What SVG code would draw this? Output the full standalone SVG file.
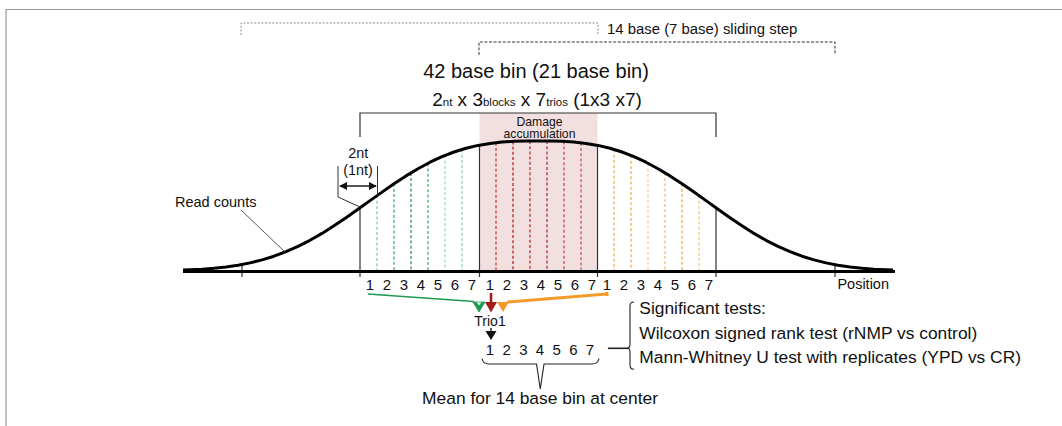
<svg xmlns="http://www.w3.org/2000/svg" width="1062" height="426" viewBox="0 0 1062 426">
<style>
text{font-family:"Liberation Sans",Arial,sans-serif;fill:#111}
.frame{stroke:#9a9a9a;stroke-width:1.2;fill:none}
.dotA{stroke:#8a8a8a;stroke-width:1;fill:none;stroke-dasharray:2,1.6}
.dotB{stroke:#333;stroke-width:1;fill:none;stroke-dasharray:3,1.6}
.solid{stroke:#333;stroke-width:1.2;fill:none}
.dash{stroke-width:1.1;stroke-dasharray:3,2.2;fill:none}
.g{fill:#1e9a50}.r{fill:#a31c1c}.o{fill:#f3a23c}
.num{font-size:15px;text-anchor:middle}
.big{font-size:17.4px}
</style>
<defs>
<marker id="ah" viewBox="0 0 10 10" refX="9" refY="5" markerWidth="4" markerHeight="4" orient="auto-start-reverse"><path d="M0,0 L10,5 L0,10 z" fill="#111"/></marker>
</defs>

<g id="frame">
<path class="frame" d="M6,426 V9.5 H1062"/>
</g>

<g id="sliding-step">
<path class="dotA" d="M241,35 V23 H598 V35"/>
<path class="dotB" d="M479,55 V42 H835 V55"/>
<text x="607" y="34" font-size="14.9">14 base (7 base) sliding step</text>
</g>

<g id="titles">
<text x="536" y="78" font-size="20" text-anchor="middle">42 base bin (21 base bin)</text>
<text x="537" y="106" font-size="19" text-anchor="middle">2<tspan font-size="11.5">nt</tspan> x 3<tspan font-size="11.5">blocks</tspan> x 7<tspan font-size="11.5">trios</tspan> (1x3 x7)</text>
</g>

<g id="damage-box">
<rect x="479.5" y="113" width="118" height="158" fill="#f2e0e0"/>
<text x="539.5" y="125.5" font-size="12.2" text-anchor="middle" fill="#3a2222">Damage</text>
<text x="539.5" y="138" font-size="12.2" text-anchor="middle" fill="#3a2222">accumulation</text>
</g>

<g id="bin-bracket">
<path class="solid" d="M360,137 V113 H716 V137"/>
</g>

<g id="bin-lines">
<path class="dash" stroke="#6cc48e" d="M377,195.6 V271"/>
<path class="dash" stroke="#22a050" d="M394,183.7 V271"/>
<path class="dash" stroke="#1b7a3c" d="M411,172.9 V271"/>
<path class="dash" stroke="#22a050" d="M428,163.3 V271"/>
<path class="dash" stroke="#8ed2b4" d="M445,155.5 V271"/>
<path class="dash" stroke="#78cc98" d="M462,149.5 V271"/>
<path class="dash" stroke="#c42020" d="M496,142.8 V271"/>
<path class="dash" stroke="#a80000" d="M513,141.4 V271"/>
<path class="dash" stroke="#b01010" d="M530,141 V271"/>
<path class="dash" stroke="#a01020" d="M547,141 V271"/>
<path class="dash" stroke="#c03030" d="M564,141.4 V271"/>
<path class="dash" stroke="#b04050" d="M581,142.8 V271"/>
<path class="dash" stroke="#f0a030" d="M614,149.5 V271"/>
<path class="dash" stroke="#f0a030" d="M631,155.5 V271"/>
<path class="dash" stroke="#f6c27a" d="M648,163.3 V271"/>
<path class="dash" stroke="#f3b050" d="M665,172.9 V271"/>
<path class="dash" stroke="#f0a030" d="M682,183.7 V271"/>
<path class="dash" stroke="#f6ba66" d="M699,195.6 V271"/>
<path class="solid" d="M360,207 V277 M479.5,145 V277 M597.5,145 V277 M716,207 V277 M242,265 V277 M835,264 V277"/>
</g>

<g id="read-counts">
<path d="M183,270.1 L190,269.8 L202,269.2 L214,268.3 L226,267 L238,265.2 L250,262.9 L262,259.9 L274,256.2 L286,251.7 L298,246.4 L310,240.3 L322,233.4 L334,225.8 L346,217.7 L358,209.3 L370,200.6 L382,192.1 L394,183.7 L406,175.9 L418,168.7 L430,162.2 L442,156.6 L454,152 L466,148.2 L478,145.4 L490,143.4 L502,142.1 L514,141.3 L526,141.1 L538,141 L550,141.1 L562,141.3 L574,142.1 L586,143.4 L598,145.4 L610,148.2 L622,152 L634,156.6 L646,162.2 L658,168.7 L670,175.9 L682,183.7 L694,192.1 L706,200.6 L718,209.3 L730,217.7 L742,225.8 L754,233.4 L766,240.3 L778,246.4 L790,251.7 L802,256.2 L814,259.9 L826,262.9 L838,265.2 L850,267 L862,268.3 L874,269.2 L886,269.8 L893,270.1" fill="none" stroke="#000" stroke-width="3" stroke-linejoin="round"/>
<path d="M183,271.5 H895" stroke="#000" stroke-width="3"/>
<path d="M241,210 L285,252" stroke="#444" stroke-width="0.9"/>
<text x="175" y="207" font-size="14.5">Read counts</text>
<text x="889" y="288.5" font-size="14.5" text-anchor="end">Position</text>
</g>

<g id="nt-width">
<text x="358.3" y="157.5" font-size="14.4" text-anchor="middle">2nt</text>
<text x="358" y="175" font-size="14.4" text-anchor="middle">(1nt)</text>
<path d="M338,166 V197 L360,207 M377.5,166 V195" stroke="#333" stroke-width="1" fill="none"/>
<path d="M340,186 H376" stroke="#555" stroke-width="2" marker-start="url(#ah)" marker-end="url(#ah)"/>
</g>

<g id="trio-numbers">
<g class="num g"><text x="370" y="289.5">1</text><text x="387" y="289.5">2</text><text x="404" y="289.5">3</text><text x="421" y="289.5">4</text><text x="438" y="289.5">5</text><text x="455" y="289.5">6</text><text x="472" y="289.5">7</text></g>
<g class="num r"><text x="490" y="289.5">1</text><text x="507" y="289.5">2</text><text x="524" y="289.5">3</text><text x="541" y="289.5">4</text><text x="558" y="289.5">5</text><text x="575" y="289.5">6</text><text x="592" y="289.5">7</text></g>
<g class="num o"><text x="607" y="289.5">1</text><text x="624" y="289.5">2</text><text x="641" y="289.5">3</text><text x="658" y="289.5">4</text><text x="675" y="289.5">5</text><text x="692" y="289.5">6</text><text x="709" y="289.5">7</text></g>
</g>

<g id="connectors">
<path d="M368,294 L474,301.5" stroke="#1e9a50" stroke-width="1.4" fill="none"/>
<path d="M473,302 L485,302 L479,312 z M476,302 L479,306 L482,302" fill="#1e9a50" stroke="#1e9a50" stroke-width="0.8"/>
<path d="M491,293 V304" stroke="#a31c1c" stroke-width="2.6"/>
<path d="M485,302 L497,302 L491,312.5 z" fill="#a31c1c"/>
<path d="M607,292 V296 M607,294 L507,302" stroke="#f39a2a" stroke-width="3" fill="none"/>
<path d="M497,302 L509,302 L503,312 z" fill="#f39a2a"/>
<path d="M491,328 V334" stroke="#111" stroke-width="1.3"/>
<path d="M485.5,331 L496.5,331 L491,340 z" fill="#111"/>
</g>

<g id="trio1">
<text x="490" y="326" font-size="14" text-anchor="middle">Trio1</text>
<g class="num"><text x="490" y="355">1</text><text x="506.7" y="355">2</text><text x="523.3" y="355">3</text><text x="540" y="355">4</text><text x="556.7" y="355">5</text><text x="573.3" y="355">6</text><text x="590" y="355">7</text></g>
<path d="M482,358.5 Q483,364 489,364 L536.5,364 L540.3,389 L544,364 L592,364 Q598,364 599,358.5" stroke="#222" stroke-width="1.1" fill="none"/>
<text x="540" y="404" text-anchor="middle" class="big">Mean for 14 base bin at center</text>
</g>

<g id="tests">
<path d="M608,348.3 H628" stroke="#222" stroke-width="1.6"/>
<path d="M634,302 Q630,302 630,306 L630,344 Q630,348.3 627,348.3 Q630,348.3 630,352 L630,365 Q630,369.3 634,369.3" stroke="#222" stroke-width="1.1" fill="none"/>
<text x="639.3" y="314.3" class="big">Significant tests:</text>
<text x="639.3" y="339.3" class="big">Wilcoxon signed rank test (rNMP vs control)</text>
<text x="639.3" y="363.3" class="big">Mann-Whitney U test with replicates (YPD vs CR)</text>
</g>
</svg>
